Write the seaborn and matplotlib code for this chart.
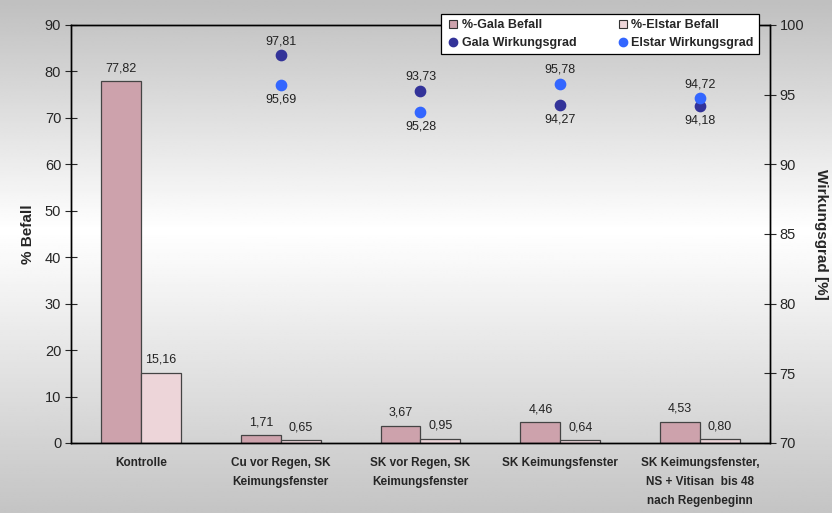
import numpy as np
import pandas as pd
import matplotlib
matplotlib.use("Agg")
import matplotlib.pyplot as plt
from matplotlib.lines import Line2D
import seaborn as sns

# ---- data ----
categories = ["Kontrolle",
              "Cu vor Regen, SK\nKeimungsfenster",
              "SK vor Regen, SK\nKeimungsfenster",
              "SK Keimungsfenster",
              "SK Keimungsfenster,\nNS + Vitisan  bis 48\nnach Regenbeginn"]
gala_befall = [77.82, 1.71, 3.67, 4.46, 4.53]
elstar_befall = [15.16, 0.65, 0.95, 0.64, 0.80]
gala_wirk = [np.nan, 97.81, 95.28, 94.27, 94.18]
elstar_wirk = [np.nan, 95.69, 93.73, 95.78, 94.72]
# label texts as printed in the original chart
gala_wirk_text = ["", "97,81", "93,73", "94,27", "94,18"]
elstar_wirk_text = ["", "95,69", "95,28", "95,78", "94,72"]

series_names = ["%-Gala Befall", "%-Elstar Befall"]
bar_colors = ["#CDA2AC", "#EDD5D9"]
gala_dot = "#333399"
elstar_dot = "#3366FF"

df = pd.DataFrame({
    "Variante": categories * 2,
    "Befall": gala_befall + elstar_befall,
    "Serie": [series_names[0]] * 5 + [series_names[1]] * 5,
})

sns.set_style("white")
plt.rcParams["font.family"] = ["Liberation Sans", "DejaVu Sans"]

fig = plt.figure(figsize=(8.32, 5.13), dpi=100)

# gradient background (grey - white - grey)
bg = fig.add_axes([0, 0, 1, 1], zorder=-10)
yy = np.linspace(0, 1, 256)
shade = np.interp(yy, [0, 0.45, 1], [0.75, 1.0, 0.77])
bg.imshow(np.repeat(shade[:, None], 2, axis=1), cmap="gray", vmin=0, vmax=1,
          aspect="auto", extent=[0, 1, 1, 0])
bg.set_axis_off()

ax = fig.add_axes([0.0853, 0.1365, 0.8402, 0.815])
ax.patch.set_alpha(0)

sns.barplot(data=df, x="Variante", y="Befall", hue="Serie", palette=bar_colors,
            width=0.57, edgecolor="#444444", linewidth=0.9, saturation=1,
            legend=False, ax=ax)

ax.set_ylim(0, 90)
ax.set_yticks(range(0, 91, 10))
ax.set_xlim(-0.5, 4.5)
ax.set_xlabel("")
ax.set_ylabel("% Befall", fontsize=11, fontweight="bold", labelpad=7)

for cont in ax.containers:
    labels = [f"{v:.2f}".replace(".", ",") for v in cont.datavalues]
    ax.bar_label(cont, labels=labels, padding=5, fontsize=9, color="#222222")

# x ticks: labels at categories, tick marks between categories
ax.set_xticks(range(len(categories)))
ax.set_xticklabels(categories, fontsize=8.5, fontweight="bold",
                   family=["Liberation Sans Narrow", "Liberation Sans", "DejaVu Sans"],
                   linespacing=1.8)
ax.tick_params(axis="x", which="major", length=0, pad=10)
ax.set_xticks(np.arange(-0.5, 5.0, 1.0), minor=True)
ax.tick_params(axis="x", which="minor", length=6, direction="inout", width=0.8)
ax.tick_params(axis="y", length=8, direction="inout", width=0.8, labelsize=10.5, pad=3)
for sp in ax.spines.values():
    sp.set_color("black")
    sp.set_linewidth(1.0)

# secondary axis: Wirkungsgrad
ax2 = ax.twinx()
ax2.set_ylim(70, 100)
ax2.set_yticks(range(70, 101, 5))
x_pos = np.arange(len(categories))
ax2.scatter(x_pos, gala_wirk, s=55, color=gala_dot, zorder=4)
ax2.scatter(x_pos, elstar_wirk, s=55, color=elstar_dot, zorder=4)
for i in range(len(categories)):
    if np.isnan(gala_wirk[i]):
        continue
    g_up = gala_wirk[i] >= elstar_wirk[i]
    for val, txt, up in [(gala_wirk[i], gala_wirk_text[i], g_up),
                         (elstar_wirk[i], elstar_wirk_text[i], not g_up)]:
        ax2.annotate(txt, (i, val), xytext=(0, 6 if up else -6),
                     textcoords="offset points", ha="center",
                     va="bottom" if up else "top", fontsize=9, color="#222222")
ax2.set_ylabel("Wirkungsgrad [%]", fontsize=11, fontweight="bold",
               rotation=-90, labelpad=17)
ax2.tick_params(axis="y", length=8, direction="inout", width=0.8, labelsize=10.5, pad=3)
for sp in ax2.spines.values():
    sp.set_color("black")
    sp.set_linewidth(1.0)
ax2.grid(False)
ax.grid(False)

# legend
handles = [
    Line2D([], [], marker="s", linestyle="", markersize=6, markerfacecolor=bar_colors[0],
           markeredgecolor="#333333", markeredgewidth=0.8, label="%-Gala Befall"),
    Line2D([], [], marker="o", linestyle="", markersize=6, color=gala_dot,
           label="Gala Wirkungsgrad"),
    Line2D([], [], marker="s", linestyle="", markersize=6, markerfacecolor=bar_colors[1],
           markeredgecolor="#333333", markeredgewidth=0.8, label="%-Elstar Befall"),
    Line2D([], [], marker="o", linestyle="", markersize=6, color=elstar_dot,
           label="Elstar Wirkungsgrad"),
]
leg = fig.legend(handles=handles, loc="upper left", bbox_to_anchor=(0.522, 0.984),
                 ncol=2, frameon=True, fancybox=False, edgecolor="black",
                 framealpha=1, facecolor="white", prop={"weight": "bold", "size": 9},
                 handletextpad=0.1, columnspacing=3.1, borderpad=0.4,
                 labelspacing=0.45, handlelength=1.2)
leg.get_frame().set_linewidth(0.9)

fig.savefig("out.png", dpi=100)
